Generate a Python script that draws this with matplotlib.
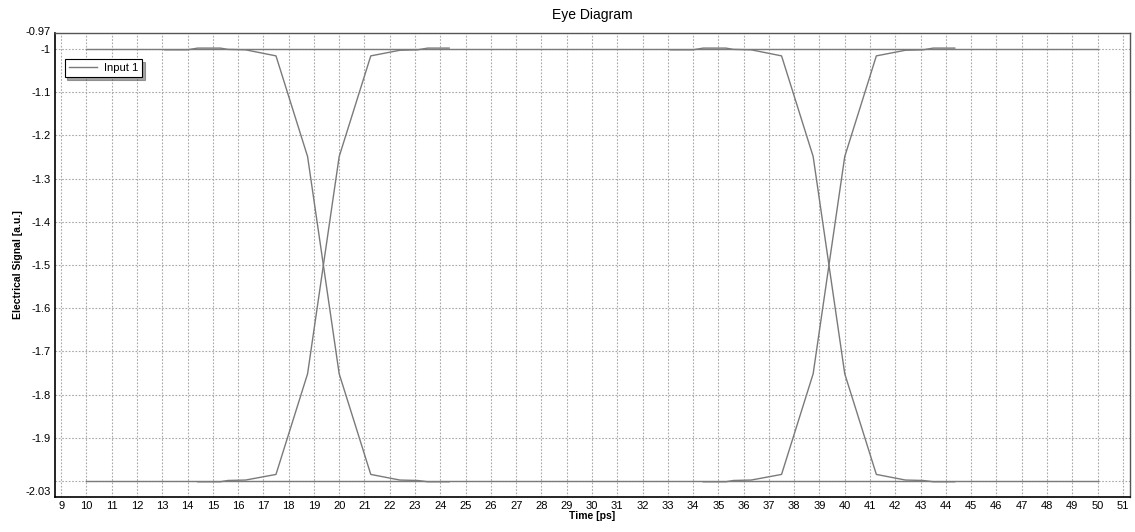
import matplotlib
matplotlib.use('Agg')
import matplotlib.pyplot as plt
import matplotlib.transforms as mtransforms

# baseline levels of the eye (one/zero rails)
rail_x = [10, 50]
rail_hi = [-1.0, -1.0]
rail_lo = [-2.0, -2.0]

# falling and rising traces of the first eye (second eye is the same shifted by 20 ps)
fall_x = [13.1, 14.0, 14.4, 15.3, 15.6, 16.3, 17.5, 18.75, 20.0, 21.25, 22.4, 23.1, 23.5, 24.35]
fall_y = [-1.002, -1.002, -0.998, -0.998, -1.001, -1.002, -1.016, -1.249, -1.752, -1.985,
          -1.998, -1.999, -2.002, -2.002]
rise_x = [14.4, 15.3, 15.6, 16.3, 17.5, 18.75, 20.0, 21.25, 22.4, 23.1, 23.5, 24.35]
rise_y = [-2.002, -2.002, -1.999, -1.998, -1.985, -1.752, -1.249, -1.016,
          -1.003, -1.002, -0.998, -0.998]
shifts = [0, 20]

xticks = list(range(9, 52))
yticks = [-0.97, -1.0, -1.1, -1.2, -1.3, -1.4, -1.5, -1.6, -1.7, -1.8, -1.9, -2.03]
ylabels = ['-0.97', '-1', '-1.1', '-1.2', '-1.3', '-1.4', '-1.5', '-1.6', '-1.7',
           '-1.8', '-1.9', '-2.03']
ygrid = [-1.0, -1.1, -1.2, -1.3, -1.4, -1.5, -1.6, -1.7, -1.8, -1.9, -2.0]

plt.rcParams['font.family'] = ['Liberation Sans', 'DejaVu Sans']

fig = plt.figure(figsize=(11.35, 5.32), dpi=100)
ax = fig.add_axes([0.0485, 0.066, 0.947, 0.872])

gc = '#a8a8a8'
for g in ygrid:
    ax.axhline(g, color=gc, ls=(0, (1.5, 1.5)), lw=0.8, zorder=0.5)

c = '#7a7a7a'
ax.plot(rail_x, rail_hi, color=c, lw=1, label='Input 1')
ax.plot(rail_x, rail_lo, color=c, lw=1)
for s in shifts:
    ax.plot([x + s for x in fall_x], fall_y, color=c, lw=1)
    ax.plot([x + s for x in rise_x], rise_y, color=c, lw=1)

ax.set_xlim(8.76, 51.28)
ax.set_ylim(-2.037, -0.963)
ax.set_xticks(xticks)
ax.set_xticklabels([str(v) for v in xticks])
ax.set_yticks(yticks)
ax.set_yticklabels(ylabels)
ax.tick_params(axis='both', which='both', length=0, labelsize=8, pad=3)
ax.xaxis.grid(True, which='major', color=gc, ls=(0, (1.5, 1.5)), lw=0.8)
ax.yaxis.grid(False)
ax.set_axisbelow(True)

# the end labels sit a little above their values
labs = ax.get_yticklabels()
labs[0].set_transform(labs[0].get_transform() + mtransforms.ScaledTranslation(0, 5 / 100, fig.dpi_scale_trans))
labs[-1].set_transform(labs[-1].get_transform() + mtransforms.ScaledTranslation(0, 3 / 100, fig.dpi_scale_trans))

for side in ['left', 'bottom']:
    ax.spines[side].set_linewidth(1.2)
    ax.spines[side].set_color('black')
for side in ['top', 'right']:
    ax.spines[side].set_linewidth(1.0)
    ax.spines[side].set_color('#555555')

ax.set_title('Eye Diagram', fontsize=10, pad=10)
ax.set_xlabel('Time [ps]', fontsize=7.5, fontweight='bold', labelpad=0)
ax.set_ylabel('Electrical Signal [a.u.]', fontsize=7.5, fontweight='bold', labelpad=2)

leg = ax.legend(loc='upper left', bbox_to_anchor=(0.009, 0.944), fontsize=8,
                frameon=True, fancybox=False, shadow=True, handlelength=2.6,
                borderpad=0.35, handletextpad=0.6, borderaxespad=0)
leg.get_frame().set_edgecolor('black')
leg.get_frame().set_linewidth(0.8)

fig.savefig('out.png', dpi=100)
